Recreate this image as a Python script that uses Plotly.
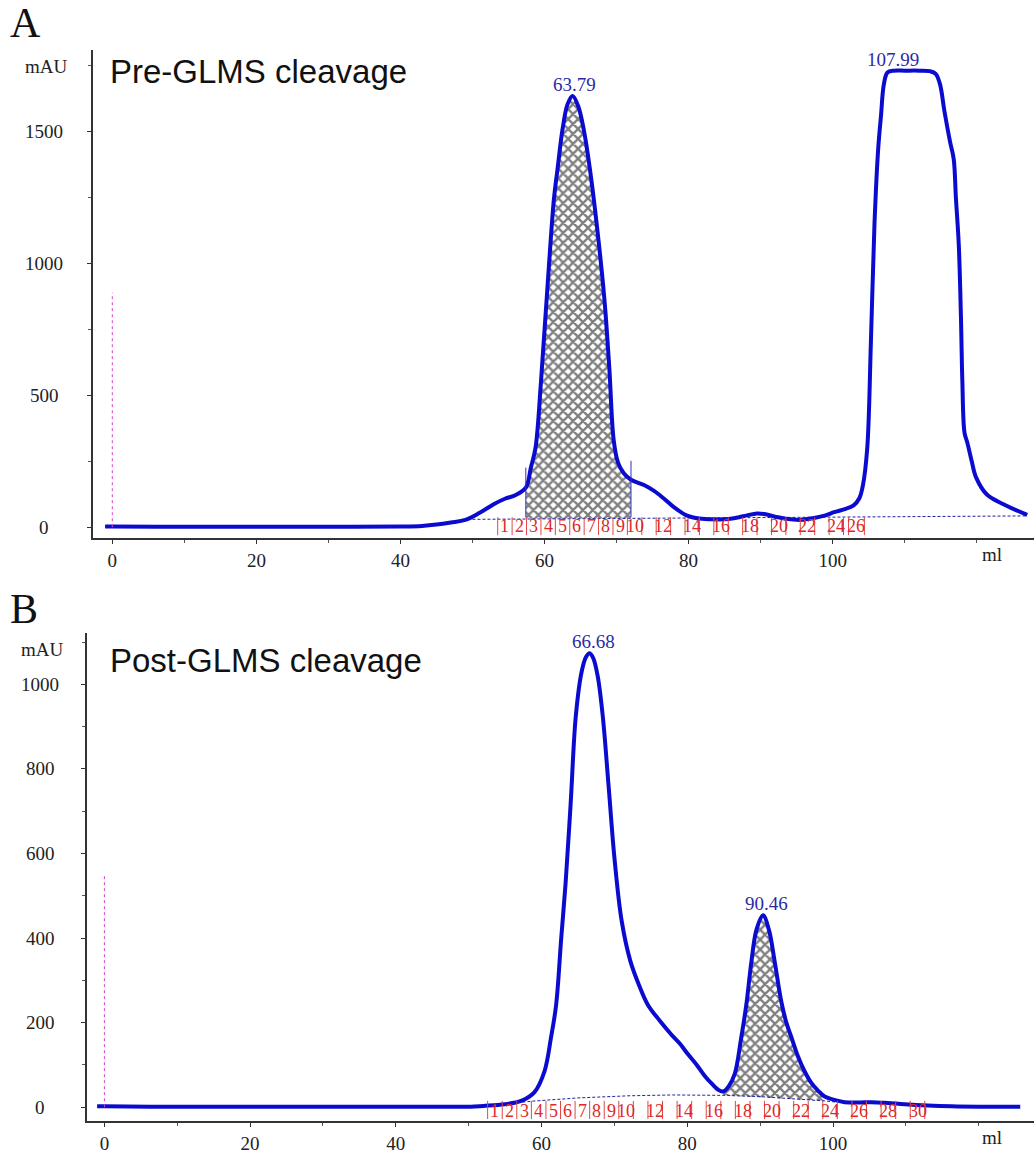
import plotly.graph_objects as go

W, H = 1034, 1154

# ---------------- Panel A data (ml, mAU) ----------------
a_ml = [-1.0, 0, 10, 20, 30, 40, 43, 45, 47, 49, 51, 53, 54.5, 56, 57.4, 58.1, 58.75, 59.5,
        60.3, 61.3, 61.8, 62.5, 63.2, 63.9, 64.7, 65.5, 66.3, 67.2, 68.3, 69.0, 69.6, 70.2,
        71.0, 72.0, 73.8, 75.2, 76.6, 78.0, 79.8, 81.5, 83.5, 85.5, 87.0, 88.1, 89.5, 90.5,
        92.0, 93.5, 95.6, 97.4, 99.0, 100.2, 101.8, 102.9, 103.7, 104.2, 104.8, 105.3, 105.8,
        106.3, 106.7, 107.1, 107.6, 108.5, 110, 112, 113.5, 114.3, 114.9, 115.5, 116.3, 116.8,
        117.1, 117.5, 117.8, 118.0, 118.3, 118.7, 119.3, 119.9, 121.4, 123.7, 127.0]
a_mau = [3, 3, 2, 2, 2, 3, 5, 10, 18, 28, 55, 88, 108, 122, 150, 226, 302, 550,
         868, 1245, 1358, 1510, 1605, 1636, 1595, 1500, 1358, 1160, 868, 600, 330, 245,
         205, 180, 160, 138, 108, 75, 44, 33, 30, 31, 38, 45, 52, 50,
         40, 32, 28, 35, 45, 57, 70, 83, 110, 160, 302, 700, 1150,
         1430, 1560, 1680, 1725, 1732, 1732, 1732, 1730, 1720, 1680, 1580, 1461, 1396,
         1250, 1072, 800, 552, 358, 320, 250, 189, 124, 87, 47]
a_base_ml = [50, 70, 90, 110, 127]
a_base_mau = [30, 33, 37, 40, 43]
a_peak_ml = [63.79, 107.99]
a_peak_mau = [1636, 1732]
a_peak_text = ["63.79", "107.99"]
a_hatch_ml = [57.4, 72.0]
a_hatch_base = [32, 34]
a_marker_top = [226, 252]
a_frac_edges = [53.5, 55.5, 57.5, 59.5, 61.5, 63.5, 65.5, 67.5, 69.5, 71.5, 73.5, 75.5, 77.5,
                79.5, 81.5, 83.5, 85.5, 87.5, 89.5, 91.5, 93.5, 95.5, 97.5, 99.5, 101.5, 102.2, 104.4]
a_frac_labels = ["1", "2", "3", "4", "5", "6", "7", "8", "9", "10", "", "12", "", "14", "", "16",
                 "", "18", "", "20", "", "22", "", "24", "", "26"]
a_yticks = [0, 500, 1000, 1500]
a_inject = 890

# ---------------- Panel B data (ml, mAU) ----------------
b_ml = [-1.0, 0, 10, 20, 30, 40, 48, 50.3, 52, 54.9, 57.2, 59.0, 60.4, 61.3, 62.0, 62.7, 63.3,
        64.0, 64.7, 65.5, 66.1, 66.6, 67.1, 67.7, 68.4, 69.2, 70.0, 71.0, 72.2, 73.4, 74.6, 76.2, 77.8,
        79.0, 80.1, 81.3, 82.4, 83.4, 84.2, 84.9, 85.7, 86.5, 87.4, 88.1, 88.8, 89.5, 90.4,
        91.2, 92.0, 92.9, 93.6, 94.3, 95.2, 96.1, 97.0, 98.0, 98.8, 99.8, 101.6, 103.5, 105.3,
        107.5, 109.8, 113, 116.3, 120, 125.7]
b_mau = [2, 2, 1, 1, 1, 1, 1, 1, 3, 7, 15, 35, 85, 165, 242, 400, 530,
         720, 925, 1030, 1065, 1074, 1062, 1020, 925, 760, 590, 440, 345, 288, 242, 205, 172,
         150, 125, 100, 74, 55, 42, 37, 50, 78, 164, 242, 344, 420, 454,
         420, 344, 250, 200, 165, 120, 85, 58, 38, 26, 19, 12, 11, 12,
         10, 7, 4, 2, 1, 1]
b_base_ml = [52.6, 58.5, 65, 72, 78, 85, 90, 96, 98.8, 100.5]
b_base_mau = [3, 14, 22, 27, 29, 28, 25, 19, 15, 12]
b_peak_ml = [66.68, 90.46]
b_peak_mau = [1074, 454]
b_peak_text = ["66.68", "90.46"]
b_hatch_ml = [84.9, 98.8]
b_hatch_base = [28, 15]
b_frac_edges = [52.6 + 2 * k for k in range(31)]
b_frac_labels = ["1", "2", "3", "4", "5", "6", "7", "8", "9", "10", "", "12", "", "14", "", "16",
                 "", "18", "", "20", "", "22", "", "24", "", "26", "", "28", "", "30"]
b_yticks = [0, 200, 400, 600, 800, 1000]
b_inject = 548

x_ticks = [0, 20, 40, 60, 80, 100]

BLUE = "#0b0bd0"
PEAKTXT = "#2a2aa8"
RED = "#e02828"
SERIF = "Liberation Serif, Times New Roman, serif"
SANS = "Liberation Sans, Arial, sans-serif"
SMOOTH = 1.0

fig = go.Figure()


def add_panel(xa, ya, ml, mau, base_ml, base_mau, hatch_ml, hatch_base):
    # baseline under the hatch
    fig.add_trace(go.Scatter(x=hatch_ml, y=hatch_base, mode="lines", line=dict(width=0),
                             xaxis=xa, yaxis=ya, showlegend=False, hoverinfo="skip"))
    hx = [v for v in ml if hatch_ml[0] <= v <= hatch_ml[1]]
    hy = [mau[i] for i, v in enumerate(ml) if hatch_ml[0] <= v <= hatch_ml[1]]
    fig.add_trace(go.Scatter(x=hx, y=hy, mode="lines", line=dict(width=0, shape="spline", smoothing=SMOOTH),
                             fill="tonexty", fillcolor="white",
                             fillpattern=dict(shape="x", fgcolor="#000000", bgcolor="white",
                                              size=7, solidity=0.55),
                             xaxis=xa, yaxis=ya, showlegend=False, hoverinfo="skip"))
    fig.add_trace(go.Scatter(x=base_ml, y=base_mau, mode="lines",
                             line=dict(color="#2222a0", width=1, dash="3px,2px"),
                             xaxis=xa, yaxis=ya, showlegend=False, hoverinfo="skip"))
    fig.add_trace(go.Scatter(x=ml, y=mau, mode="lines",
                             line=dict(color=BLUE, width=4, shape="spline", smoothing=SMOOTH),
                             xaxis=xa, yaxis=ya, showlegend=False))


add_panel("x", "y", a_ml, a_mau, a_base_ml, a_base_mau, a_hatch_ml, a_hatch_base)
add_panel("x2", "y2", b_ml, b_mau, b_base_ml, b_base_mau, b_hatch_ml, b_hatch_base)

shapes = []
annotations = []

# peak boundary markers (panel A)
for xm, top in zip(a_hatch_ml, a_marker_top):
    shapes.append(dict(type="line", xref="x", yref="y", x0=xm, x1=xm, y0=38, y1=top,
                       line=dict(color="#3030c0", width=1)))

# injection marks
shapes.append(dict(type="line", xref="x", yref="y", x0=0, x1=0, y0=0, y1=a_inject,
                   line=dict(color="#cc44cc", width=1, dash="dot")))
shapes.append(dict(type="line", xref="x2", yref="y2", x0=0, x1=0, y0=0, y1=b_inject,
                   line=dict(color="#cc44cc", width=1, dash="dot")))


def add_fractions(xr, yr, edges, labels, y0, y1, ylab):
    for e in edges:
        shapes.append(dict(type="line", xref=xr, yref=yr, x0=e, x1=e, y0=y0, y1=y1,
                           line=dict(color="#e04848", width=1)))
    for i, lab in enumerate(labels):
        if lab:
            annotations.append(dict(x=(edges[i] + edges[i + 1]) / 2, y=ylab, xref=xr, yref=yr,
                                    text=lab, showarrow=False,
                                    font=dict(family=SERIF, size=18, color=RED)))


add_fractions("x", "y", a_frac_edges, a_frac_labels, -30, 38, 4)
add_fractions("x2", "y2", b_frac_edges, b_frac_labels, -28, 15, -8)

# peak labels
for xr, yr, px, py, pt in [("x", "y", a_peak_ml, a_peak_mau, a_peak_text),
                           ("x2", "y2", b_peak_ml, b_peak_mau, b_peak_text)]:
    for x, y, t in zip(px, py, pt):
        annotations.append(dict(x=x, y=y, xref=xr, yref=yr, text=t, showarrow=False,
                                yanchor="bottom", xshift=3, yshift=-1,
                                font=dict(family=SERIF, size=19, color=PEAKTXT)))

# y tick labels (centred, as in the original)
TICKFONT = dict(family=SERIF, size=19, color="#222")
for yr, vals, xc in [("y", a_yticks, 44), ("y2", b_yticks, 40)]:
    for v in vals:
        annotations.append(dict(x=xc / W, y=v, xref="paper", yref=yr, text=str(v),
                                showarrow=False, xanchor="center", yanchor="middle", font=TICKFONT))
annotations.append(dict(x=46 / W, y=1747, xref="paper", yref="y", text="mAU", showarrow=False,
                        xanchor="center", yanchor="middle", font=TICKFONT))
annotations.append(dict(x=42 / W, y=1082, xref="paper", yref="y2", text="mAU", showarrow=False,
                        xanchor="center", yanchor="middle", font=TICKFONT))

# x unit labels
annotations.append(dict(x=122.1, y=1 - 557 / H, xref="x", yref="paper", text="ml", showarrow=False,
                        yanchor="middle", font=TICKFONT))
annotations.append(dict(x=121.8, y=1 - 1143 / H, xref="x2", yref="paper", text="ml", showarrow=False,
                        yanchor="middle", font=TICKFONT))

# panel titles & letters
annotations.append(dict(x=108 / W, y=1 - 72 / H, xref="paper", yref="paper", text="Pre-GLMS cleavage",
                        showarrow=False, xanchor="left", yanchor="middle",
                        font=dict(family=SANS, size=33, color="#111")))
annotations.append(dict(x=108 / W, y=1 - 664 / H, xref="paper", yref="paper", text="Post-GLMS cleavage",
                        showarrow=False, xanchor="left", yanchor="middle",
                        font=dict(family=SANS, size=33, color="#111")))
annotations.append(dict(x=8 / W, y=1 - 23 / H, xref="paper", yref="paper", text="A",
                        showarrow=False, xanchor="left", yanchor="middle",
                        font=dict(family=SERIF, size=42, color="#111")))
annotations.append(dict(x=8 / W, y=1 - 612 / H, xref="paper", yref="paper", text="B",
                        showarrow=False, xanchor="left", yanchor="middle",
                        font=dict(family=SERIF, size=42, color="#111")))

xcommon = dict(showgrid=False, zeroline=False, showline=True, linecolor="#333", linewidth=2,
               ticks="outside", ticklen=4, tickcolor="#333", tickvals=x_ticks,
               tickfont=TICKFONT,
               minor=dict(ticks="outside", dtick=10, ticklen=3, tickcolor="#555"))
ycommon = dict(showgrid=False, zeroline=False, showline=True, linecolor="#333", linewidth=1.5,
               ticks="outside", ticklen=4, tickcolor="#333", showticklabels=False)

fig.update_layout(
    width=W, height=H, margin=dict(l=0, r=0, t=0, b=0),
    paper_bgcolor="white", plot_bgcolor="white", showlegend=False,
    xaxis=dict(domain=[93 / W, 1], range=[(93 - 112.3) / 7.204, (W - 112.3) / 7.204],
               anchor="y", **xcommon),
    yaxis=dict(domain=[1 - 541 / H, 1 - 50 / H], range=[(530 - 541) / 0.265, (530 - 50) / 0.265],
               anchor="x", tickvals=a_yticks,
               minor=dict(ticks="outside", dtick=250, ticklen=3, tickcolor="#555"), **ycommon),
    xaxis2=dict(domain=[87 / W, 1], range=[(87 - 104.4) / 7.286, (W - 104.4) / 7.286],
                anchor="y2", **xcommon),
    yaxis2=dict(domain=[1 - 1127 / H, 1 - 636 / H], range=[(1113 - 1127) / 0.425, (1113 - 636) / 0.425],
                anchor="x2", tickvals=b_yticks,
                minor=dict(ticks="outside", dtick=100, ticklen=3, tickcolor="#555"), **ycommon),
    shapes=shapes, annotations=annotations,
)

fig.write_html("out.html")
